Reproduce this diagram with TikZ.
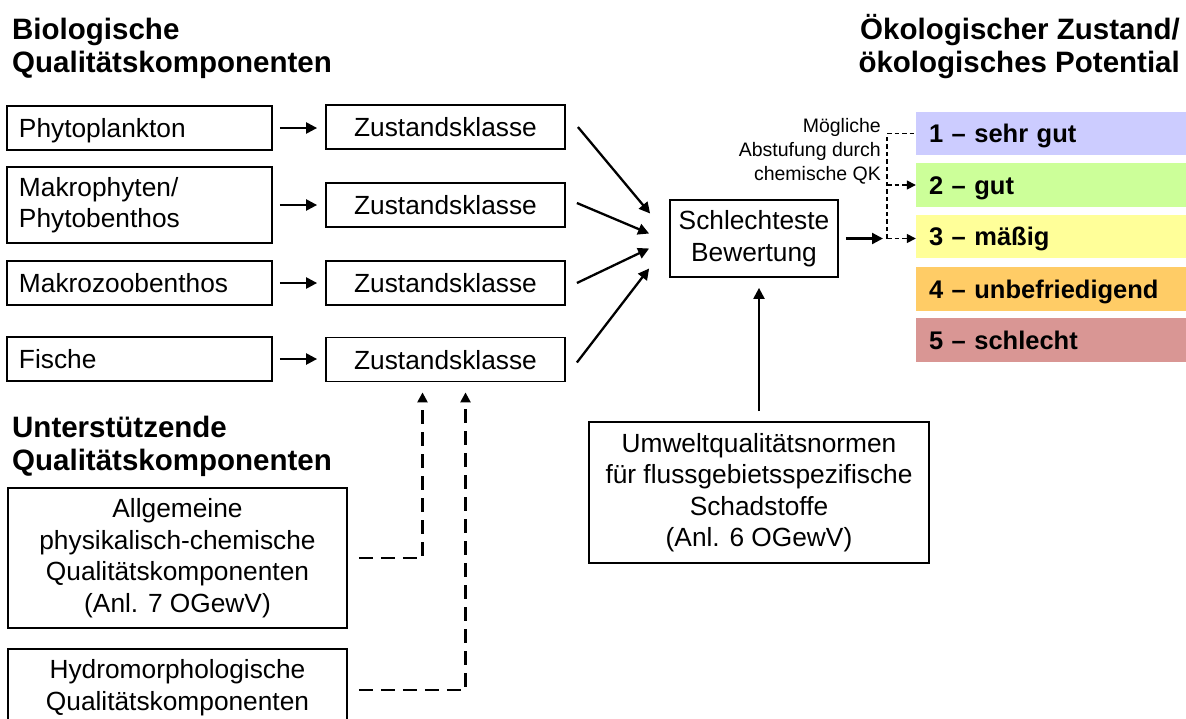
\documentclass[tikz,border=0pt]{standalone}
\usepackage{fontspec}
\setmainfont{Liberation Sans}
\usetikzlibrary{arrows.meta,calc}
\definecolor{kA}{RGB}{204,204,255}
\definecolor{kB}{RGB}{204,255,153}
\definecolor{kC}{RGB}{255,255,153}
\definecolor{kD}{RGB}{255,204,102}
\definecolor{kE}{RGB}{217,150,148}
\newcommand{\mainfs}{\fontsize{26.3}{31.5}\selectfont}
\newcommand{\headfs}{\fontsize{29.5}{33}\selectfont\bfseries}
\newcommand{\smallfs}{\fontsize{19.5}{24.3}\selectfont}
\newcommand{\classfs}{\fontsize{25.5}{30}\selectfont\bfseries}
\newcommand{\topstrut}[1]{\rule{0pt}{#1}}
\begin{document}
\begin{tikzpicture}[x=1pt,y=-1pt,
  bx/.style={draw=black, line width=1.8pt, inner sep=0pt, font=\mainfs, align=center},
  one/.style={text height=19pt, text depth=0pt},
  lbx/.style={bx, one, align=left, inner xsep=12pt, text width=241pt, minimum height=44pt},
  zbx/.style={bx, one, minimum width=239pt, minimum height=44pt},
  head/.style={inner sep=0pt, font=\headfs},
  cls/.style={inner xsep=13pt, inner ysep=0pt, minimum height=43.5pt, text width=244pt, align=left, font=\classfs, text height=19pt, text depth=1pt},
  arr/.style={line width=2.3pt, -{Triangle[length=11pt,width=11pt]}},
  dline/.style={line width=1.5pt, dash pattern=on 4.5pt off 3pt},
  darr/.style={dline, -{Triangle[length=9pt,width=9pt]}},
  ldsh/.style={line width=2.3pt, dash pattern=on 14pt off 8pt, -{Triangle[length=10pt,width=10pt]}}
]
\useasboundingbox (0,0) rectangle (1186,718);
\clip (0,0) rectangle (1186,718);
\fill[white] (0,0) rectangle (1186,718);

% headings
\node[head, align=left, anchor=north west] (bio) at (12,11) {\topstrut{28pt}Biologische\\Qualitätskomponenten};
\node[head, align=right, anchor=north east] (oek) at (1180,11) {\topstrut{28pt}Ökologischer Zustand/\\ökologisches Potential};
\node[head, align=left, anchor=north west] (unt) at (12,409) {\topstrut{28pt}Unterstützende\\Qualitätskomponenten};

% biological components
\node[lbx] (ph) at (139.5,128) {Phytoplankton};
\node[bx, align=left, inner xsep=12pt, text width=241pt, minimum height=76pt] (mak) at (139.5,205) {Makrophyten/\\Phytobenthos};
\node[lbx] (mzb) at (139.5,283) {Makrozoobenthos};
\node[lbx] (fis) at (139.5,359) {Fische};

% classes
\node[zbx] (z1) at (445.5,127) {Zustandsklasse};
\node[zbx] (z2) at (445.5,205) {Zustandsklasse};
\node[zbx] (z3) at (445.5,283) {Zustandsklasse};
\node[zbx] (z4) at (445.5,359.5) {Zustandsklasse};

\node[bx, minimum width=168pt, minimum height=77pt] (sb) at (754,238.5) {Schlechteste\\Bewertung};
\node[bx, minimum width=340pt, minimum height=141pt] (uq) at (759,492.5) {Umweltqualitätsnormen\\für flussgebietsspezifische\\Schadstoffe\\(Anl. 6 OGewV)};
\node[bx, minimum width=339pt, minimum height=140pt] (ag) at (177.5,558) {Allgemeine\\physikalisch-chemische\\Qualitätskomponenten\\(Anl. 7 OGewV)};
\node[bx, anchor=north, minimum width=339pt] (hy) at (177.5,648) {\topstrut{30pt}Hydromorphologische\\Qualitätskomponenten\rule[-60pt]{0pt}{60pt}};

% note
\node[font=\smallfs, align=right, anchor=north east, inner sep=0pt] (ms) at (881,112) {\topstrut{20pt}Mögliche\\Abstufung durch\\chemische QK};

% result classes
\node[cls, fill=kA] (k1) at (1051,133.5) {1 – sehr gut};
\node[cls, fill=kB] (k2) at (1051,185) {2 – gut};
\node[cls, fill=kC] (k3) at (1051,236.5) {3 – mäßig};
\node[cls, fill=kD] (k4) at (1051,289) {4 – unbefriedigend};
\node[cls, fill=kE] (k5) at (1051,340) {5 – schlecht};

% arrows components -> classes
\draw[arr, shorten <=7pt, shorten >=8pt] (ph.east) -- (ph.east -| z1.west);
\draw[arr, shorten <=7pt, shorten >=8pt] (mak.east) -- (mak.east -| z2.west);
\draw[arr, shorten <=7pt, shorten >=8pt] (mzb.east) -- (mzb.east -| z3.west);
\draw[arr, shorten <=7pt, shorten >=8pt] (fis.east) -- (fis.east -| z4.west);

% classes -> worst
\draw[arr] ($(z1.east)+(12,0)$) -- ($(sb.west)+(-19,-25)$);
\draw[arr] ($(z2.east)+(11,-2)$) -- ($(sb.west)+(-20,-5)$);
\draw[arr] ($(z3.east)+(11,0)$) -- ($(sb.west)+(-20,10)$);
\draw[arr] ($(z4.east)+(11,3)$) -- ($(sb.west)+(-20,30)$);

% worst -> result
\coordinate (dj) at (887,238.5);
\draw[arr, shorten <=7pt, shorten >=4pt] (sb.east) -- (dj);
\draw[dline] (dj) -- (dj |- k1.west) -- (k1.west);
\draw[darr] (dj |- k2.west) -- (k2.west);
\draw[darr] (dj) -- (k3.west |- dj);

% UQN -> worst
\draw[arr] ($(uq.north)+(0,-10)$) -- ($(uq.north |- sb.south)+(0,10)$);

% supporting components
\coordinate (t1) at ($(z4.south)+(-23,10)$);
\coordinate (t2) at ($(z4.south)+(20,10)$);
\coordinate (as) at ($(ag.east)+(11,0)$);
\coordinate (hs) at ($(hy.north east)+(11,42)$);
\draw[ldsh] (as) -- (as -| t1) -- (t1);
\draw[ldsh] (hs) -- (hs -| t2) -- (t2);
\end{tikzpicture}
\end{document}
